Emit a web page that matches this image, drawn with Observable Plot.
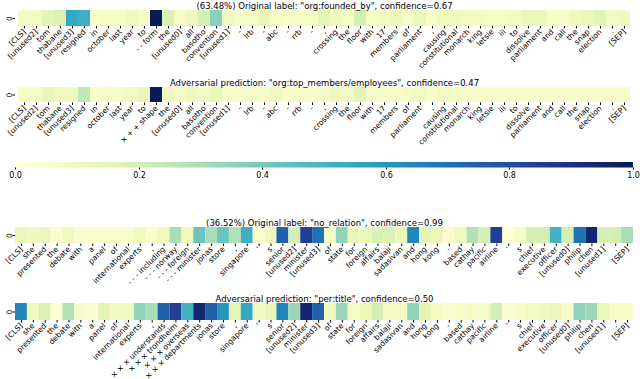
<!DOCTYPE html>
<html><head><meta charset="utf-8">
<script src="https://cdn.jsdelivr.net/npm/d3@7"></script>
<script src="https://cdn.jsdelivr.net/npm/@observablehq/plot@0.6"></script>
<style>
body{margin:0;background:#fff;font-family:"DejaVu Sans",sans-serif;}
#chart{position:relative;width:640px;height:379px;overflow:hidden;background:#fff;}
#chart > *{position:absolute;left:0;margin:0;}
</style></head><body><div id="chart"></div>
<script>
// ---- data ----
const title1 = '(63.48%) Original label: "org:founded_by", confidence=0.67';
const title2 = 'Adversarial prediction: "org:top_members/employees", confidence=0.47';
const title3 = '(36.52%) Original label: "no_relation", confidence=0.99';
const title4 = 'Adversarial prediction: "per:title", confidence=0.50';

const tokens1 = ["[CLS]","[unused2]","tom","thabane","[unused3]","resigned","in","october","last","year","to","- - form","the","[unused0]","all","basotho","convention","[unused1]","-","lrb","-","abc","-","rrb","-",",","crossing","the","floor","with","17","members","of","parliament",",","causing","constitutional","monarch","king","letsie","iii","to","dissolve","parliament","and","call","the","snap","election",".","[SEP]"];
const tokens1Adv = ["[CLS]","[unused2]","tom","thabane","[unused3]","resigned","in","october","last","year","to","× + + shape","the","[unused0]","all","basotho","convention","[unused1]","-","lrb","-","abc","-","rrb","-",",","crossing","the","floor","with","17","members","of","parliament",",","causing","constitutional","monarch","king","letsie","iii","to","dissolve","parliament","and","call","the","snap","election",".","[SEP]"];
const values1 = [0.08,0.08,0.15,0.18,0.55,0.52,0.05,0.07,0.07,0.10,0.07,1.00,0.18,0.07,0.10,0.20,0.36,0.10,0.06,0.07,0.12,0.07,0.05,0.06,0.07,0.15,0.10,0.07,0.20,0.07,0.08,0.12,0.07,0.12,0.05,0.10,0.10,0.08,0.08,0.07,0.07,0.08,0.12,0.12,0.07,0.06,0.10,0.12,0.16,0.08,0.10];
const values1Adv = [0.07,0.07,0.12,0.10,0.10,0.25,0.05,0.06,0.07,0.08,0.12,1.00,0.10,0.07,0.10,0.08,0.12,0.06,0.05,0.06,0.07,0.10,0.05,0.05,0.05,0.06,0.10,0.08,0.15,0.05,0.06,0.05,0.07,0.08,0.05,0.08,0.07,0.05,0.05,0.05,0.05,0.05,0.05,0.05,0.05,0.05,0.05,0.05,0.05,0.05,0.05];

const tokens2 = ["[CLS]","she","presented","the","debate","with","a","panel","of","international","experts",",","- - - including","- - - norway","- - - foreign","- - - minister","jonas","store",",","singapore","'","s","senior","[unused2]","minister","[unused3]","of","state","for","foreign","affairs","balaji","sadasivan","and","hong","kong","-","based","cathay","pacific","airline","'","s","chief","executive","officer","[unused0]","philip","chen","[unused1]",".","[SEP]"];
const tokens2Adv = ["[CLS]","she","presented","the","debate","with","a","panel","of","international","experts",",","× × × understands","× × × trondheim","× × × overseas","× × × departments","jonas","store",",","singapore","'","s","senior","[unused2]","minister","[unused3]","of","state","for","foreign","affairs","balaji","sadasivan","and","hong","kong","-","based","cathay","pacific","airline","'","s","chief","executive","officer","[unused0]","philip","chen","[unused1]",".","[SEP]"];
const values2 = [0.12,0.10,0.12,0.03,0.10,0.04,0.03,0.04,0.03,0.04,0.10,0.04,0.10,0.30,0.10,0.42,0.30,0.42,0.28,0.52,0.04,0.10,0.75,0.20,0.85,0.70,0.07,0.35,0.12,0.12,0.18,0.18,0.12,0.65,0.15,0.12,0.03,0.10,0.28,0.20,0.85,0.02,0.06,0.20,0.20,0.50,0.20,0.70,0.95,0.20,0.20,0.30];
const values2Adv = [0.65,0.10,0.18,0.03,0.28,0.05,0.03,0.15,0.10,0.10,0.35,0.30,0.75,0.85,0.50,0.95,0.75,0.60,0.15,0.55,0.10,0.12,0.65,0.33,0.95,0.75,0.10,0.33,0.07,0.12,0.20,0.08,0.08,0.35,0.15,0.08,0.03,0.05,0.07,0.07,0.20,0.03,0.05,0.08,0.10,0.12,0.06,0.35,0.33,0.12,0.05,0.05];

const rowLabels = ["0"];
const colorTickCount = 5; // gives 0.0, 0.2, ..., 1.0

// ---- drawing ----
const chart = document.getElementById("chart");
const FONT = "DejaVu Sans, sans-serif";

function heatRow(tokens, values, title, top, height, marginTop, frameH) {
  const data = values.map((v, i) => ({i, v}));
  const p = Plot.plot({
    width: 640, height,
    marginLeft: 15, marginRight: 7, marginTop, marginBottom: height - marginTop - frameH,
    style: {fontFamily: FONT, fontSize: "7.6px", background: "white", color: "black"},
    x: {type: "band", domain: d3.range(tokens.length), padding: 0, label: null,
        tickFormat: i => tokens[i], tickRotate: -45, tickSize: 2.5, tickPadding: 1.5},
    y: {type: "band", domain: [0], padding: 0, label: null,
        tickFormat: i => rowLabels[i], tickRotate: -90, tickSize: 2.5, tickPadding: 1.5},
    color: {type: "linear", scheme: "ylgnbu", domain: [0, 1]},
    marks: [
      Plot.cell(data, {x: "i", y: () => 0, fill: "v"}),
      Plot.text([title], {text: d => d, frameAnchor: "top", lineAnchor: "bottom", dy: -1.5, fontSize: 8.5, fill: "black"})
    ]
  });
  p.style.top = top + "px";
  chart.appendChild(p);
}

heatRow(tokens1, values1, title1, 0, 77, 10, 16);
heatRow(tokens1Adv, values1Adv, title2, 77, 83, 10, 15.5);

const legend = Plot.legend({
  color: {type: "linear", scheme: "ylgnbu", domain: [0, 1]},
  width: 640, height: 26, marginTop: 2, marginBottom: 18.5, marginLeft: 15, marginRight: 7,
  tickSize: 2, ticks: colorTickCount, tickFormat: d3.format(".1f"),
  style: {fontFamily: FONT, fontSize: "8px", background: "white", color: "black"}
});
d3.select(legend).selectAll(".tick line").attr("y1", 0).attr("y2", 2);
legend.style.top = "160px";
chart.appendChild(legend);

heatRow(tokens2, values2, title3, 216, 76, 11, 16.5);
heatRow(tokens2Adv, values2Adv, title4, 292, 87, 11, 17);
</script></body></html>
